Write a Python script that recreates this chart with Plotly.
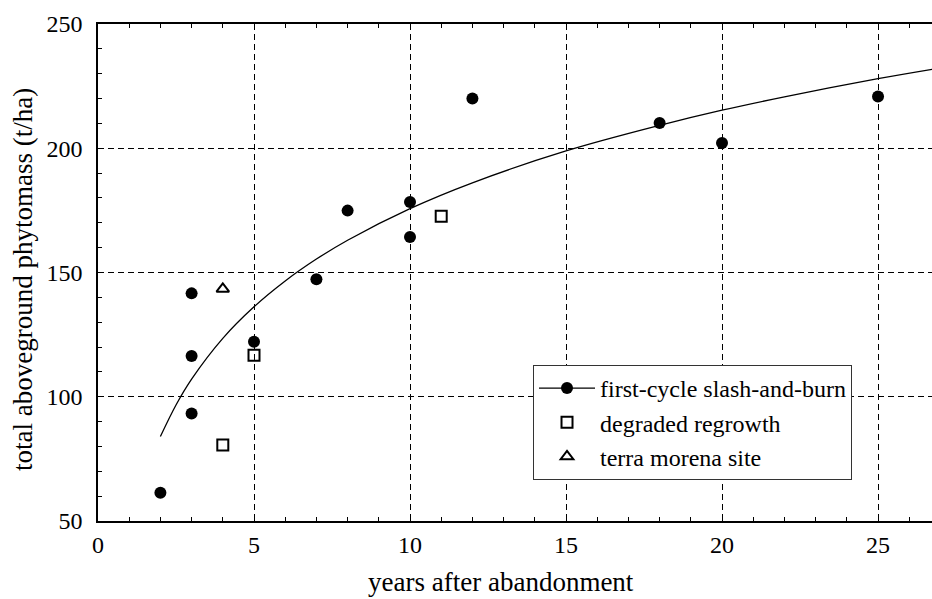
import plotly.graph_objects as go

# first-cycle slash-and-burn sites
fc_years = [2, 3, 3, 3, 5, 7, 8, 10, 10, 12, 18, 20, 25]
fc_mass = [61.4, 141.6, 116.4, 93.3, 122.1, 147.3, 174.9, 178.4, 164.3, 220.0, 210.2, 202.1, 220.8]

# degraded regrowth
dg_years = [4, 5, 11]
dg_mass = [80.6, 116.7, 172.6]

# terra morena site
tm_years = [4]
tm_mass = [143.4]

# fitted curve
fit_years = [2, 2.5, 3, 4, 5, 6, 7, 8, 10, 12, 15, 18, 20, 22, 25, 26.75]
fit_mass = [84.0, 96.7, 107.1, 123.5, 136.2, 146.6, 155.4, 163.0, 175.7, 186.1, 198.9, 209.2, 215.3, 220.7, 228.0, 231.8]

x_ticks = [0, 5, 10, 15, 20, 25]
y_ticks = [50, 100, 150, 200, 250]

FONT = "Liberation Serif"

fig = go.Figure()
fig.add_trace(go.Scatter(x=fit_years, y=fit_mass, mode="lines", line=dict(color="black", width=1.3, shape="spline"),
                         showlegend=False, hoverinfo="skip"))
fig.add_trace(go.Scatter(x=fc_years, y=fc_mass, mode="markers", marker=dict(symbol="circle", size=12, color="black"),
                         showlegend=False))
fig.add_trace(go.Scatter(x=[None], y=[None], mode="lines+markers", name="first-cycle slash-and-burn",
                         line=dict(color="black", width=1.3), marker=dict(symbol="circle", size=12, color="black")))
fig.add_trace(go.Scatter(x=dg_years, y=dg_mass, mode="markers", name="degraded regrowth",
                         marker=dict(symbol="square-open", size=11, color="black", line=dict(width=2, color="black"))))
fig.add_trace(go.Scatter(x=tm_years, y=tm_mass, mode="markers", name="terra morena site",
                         marker=dict(symbol="triangle-up-open", size=11, color="black", line=dict(width=2, color="black"))))

axis_common = dict(
    showline=True, linecolor="black", linewidth=1.5,
    ticks="inside", ticklen=6, tickcolor="black", tickwidth=1,
    showgrid=True, gridcolor="black", gridwidth=1, griddash="6px,4px",
    zeroline=False,
    tickfont=dict(family=FONT, size=24, color="black"),
)

fig.update_xaxes(range=[0, 26.73], tickvals=x_ticks, mirror="ticks",
                 minor=dict(dtick=1, ticks="inside", ticklen=4, tickcolor="black", showgrid=False),
                 ticklabelstandoff=1, **axis_common)
fig.update_yaxes(range=[50, 250], tickvals=y_ticks,
                 minor=dict(dtick=10, ticks="inside", ticklen=4, tickcolor="black", showgrid=False),
                 ticklabelstandoff=9, **axis_common)

fig.update_layout(
    width=932, height=599,
    margin=dict(l=98, r=0, t=24, b=78),
    paper_bgcolor="white", plot_bgcolor="white",
    font=dict(family=FONT, size=24, color="black"),
    legend=dict(x=0.5216, y=0.314, xanchor="left", yanchor="top",
                bgcolor="white", bordercolor="#333333", borderwidth=1,
                font=dict(family=FONT, size=24, color="black"),
                itemwidth=56, tracegroupgap=0),
    annotations=[
        dict(text="years after abandonment", xref="paper", yref="paper", x=0.4832, y=-0.1227,
             xanchor="center", yanchor="middle", showarrow=False, font=dict(family=FONT, size=27, color="black")),
        dict(text="total aboveground phytomass (t/ha)", xref="paper", yref="paper", x=-0.0899, y=0.485,
             xanchor="center", yanchor="middle", textangle=-90, showarrow=False,
             font=dict(family=FONT, size=27, color="black")),
    ],
)

fig.write_html("out.html")
